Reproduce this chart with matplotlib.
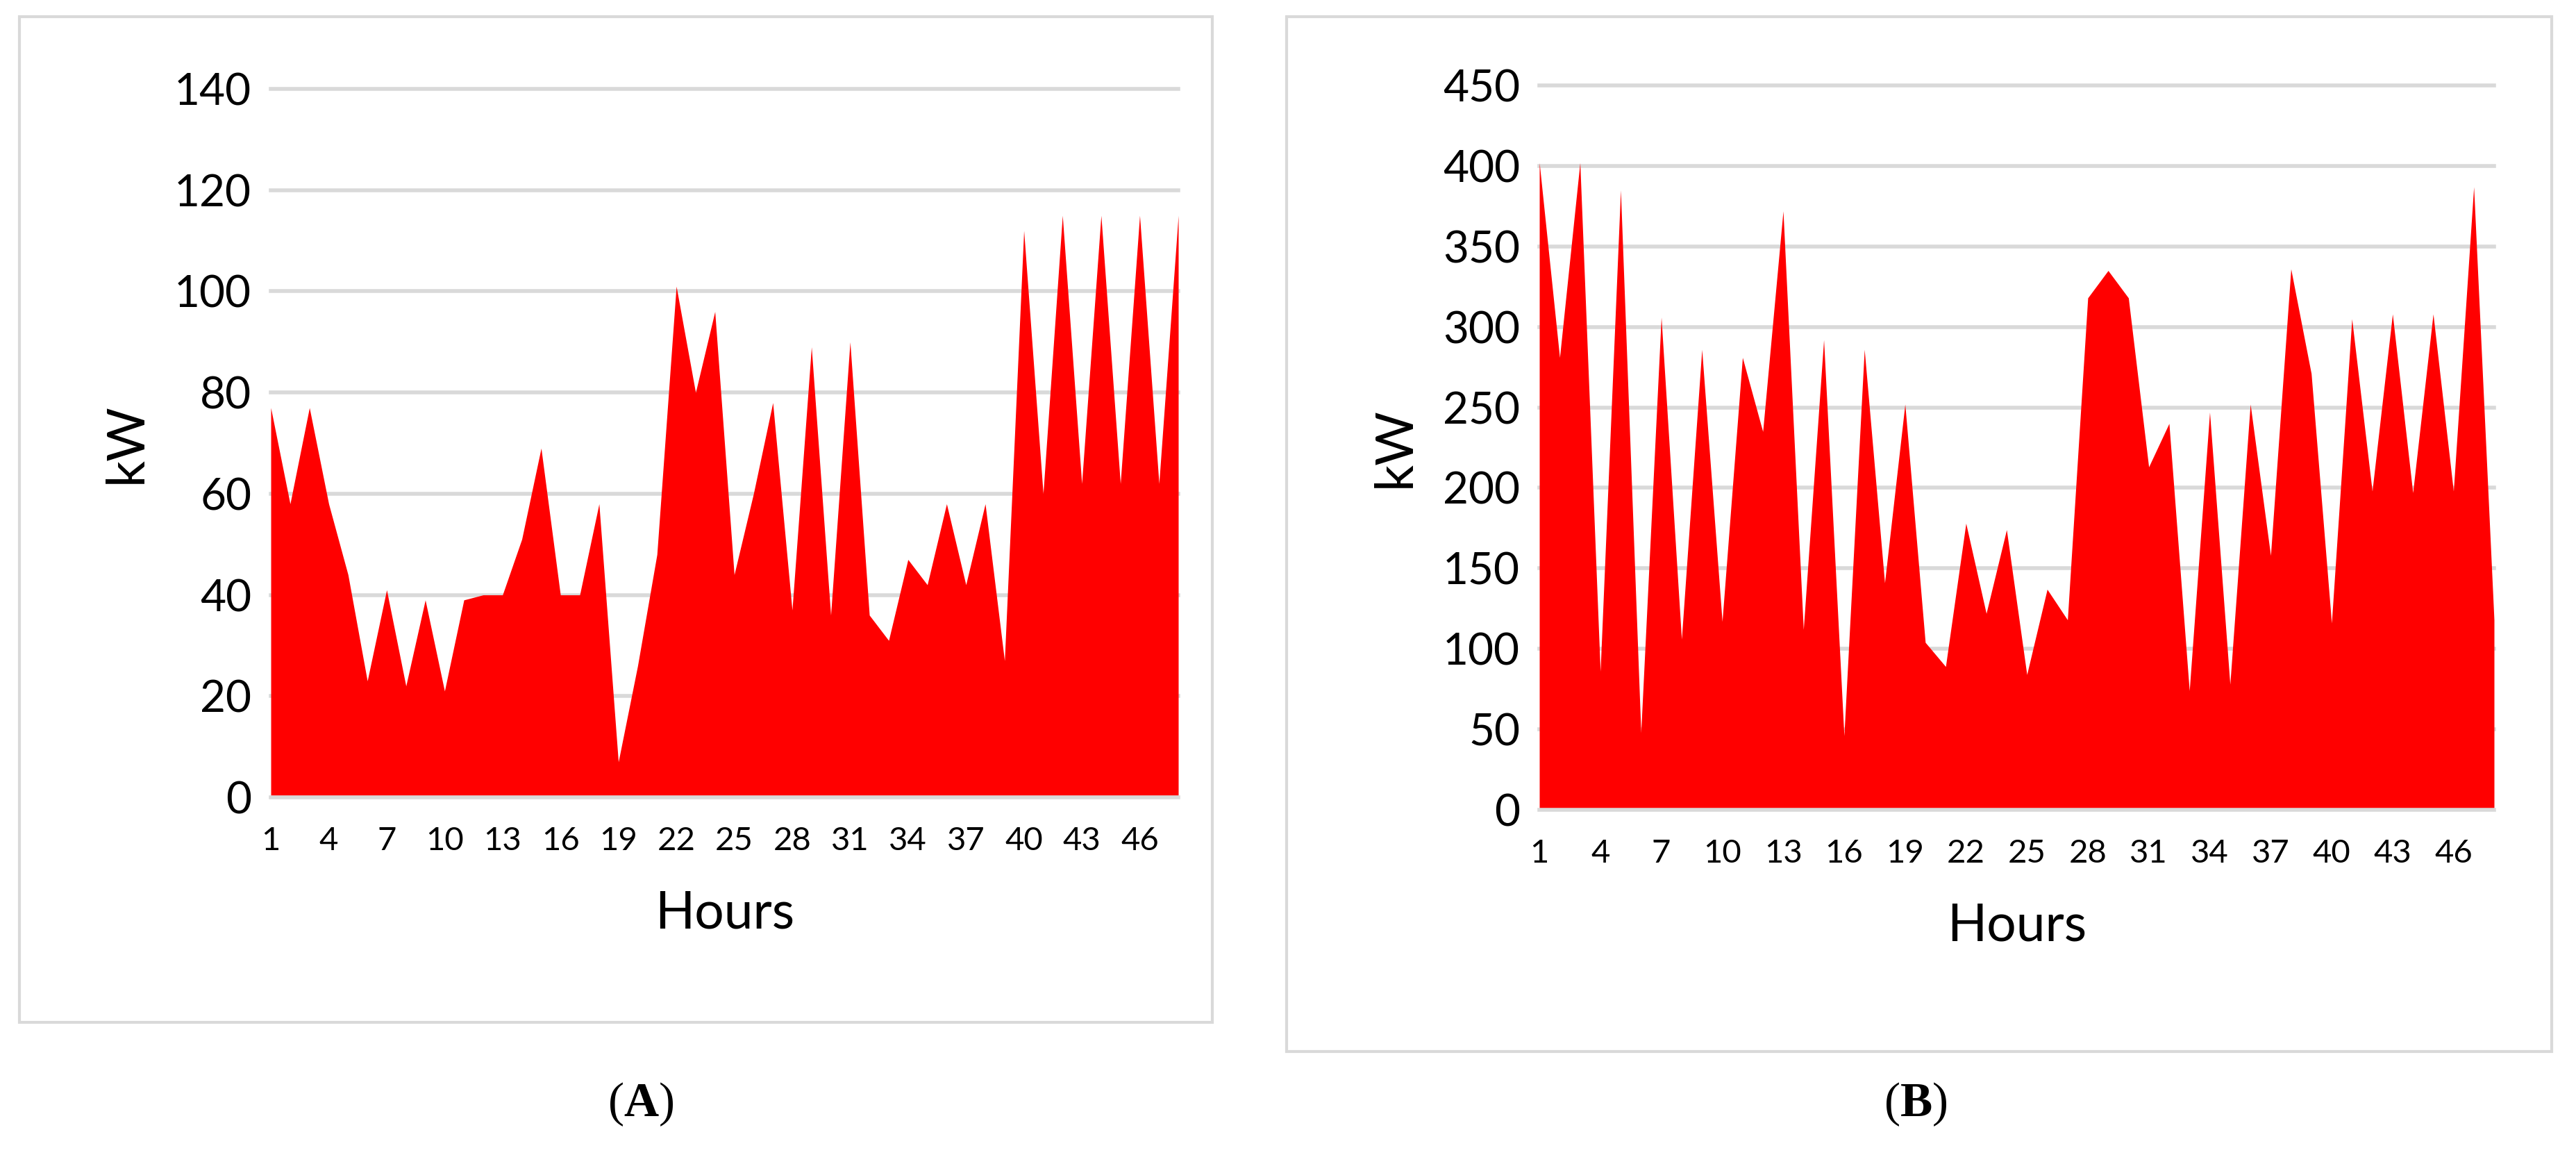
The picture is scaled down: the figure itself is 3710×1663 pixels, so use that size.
import matplotlib
matplotlib.use("Agg")
import matplotlib.pyplot as plt
from matplotlib.patches import Rectangle

plt.rcParams["mathtext.fontset"] = "custom"
plt.rcParams["mathtext.rm"] = "Liberation Serif"
plt.rcParams["mathtext.bf"] = "Liberation Serif:bold"

hours = list(range(1, 49))
load_a = [77, 58, 77, 58, 44, 23, 41, 22, 39, 21, 39, 40, 40, 51, 69, 40, 40, 58, 7, 26,
          48, 101, 80, 96, 44, 60, 78, 37, 89, 36, 90, 36, 31, 47, 42, 58, 42, 58, 27, 112,
          60, 115, 62, 115, 62, 115, 62, 115]
load_b = [402, 281, 402, 86, 385, 48, 306, 106, 286, 117, 281, 235, 372, 112, 292, 46, 286, 141,
          252, 104, 89, 178, 122, 174, 84, 137, 118, 318, 335, 318, 213, 240, 74, 247, 78, 252,
          158, 336, 271, 116, 305, 198, 308, 197, 308, 198, 387, 118]
xticks = list(range(1, 48, 3))
yticks_a = list(range(0, 141, 20))
yticks_b = list(range(0, 451, 50))
panel_labels = ["A", "B"]

W, H = 3710, 1663
fig = plt.figure(figsize=(W / 100, H / 100), dpi=100)
fig.patch.set_facecolor("white")

def box(x0, y0, x1, y1):
    fig.patches.append(Rectangle((x0 / W, 1 - y1 / H), (x1 - x0) / W, (y1 - y0) / H,
                                 transform=fig.transFigure, fill=False,
                                 edgecolor="#d9d9d9", linewidth=3))

box(28, 24, 1746, 1472)
box(1853, 24, 3675, 1514)

def panel(rect, vals, yt):
    x0, y0, x1, y1 = rect
    ax = fig.add_axes([x0 / W, 1 - y1 / H, (x1 - x0) / W, (y1 - y0) / H])
    ax.fill_between(hours, vals, 0, color="#ff0000", linewidth=0, zorder=2)
    ax.set_xlim(1, 48)
    ax.set_ylim(0, yt[-1])
    ax.set_yticks(yt)
    ax.set_xticks(xticks)
    for v in yt:
        ax.axhline(v, color="#d9d9d9", linewidth=4, zorder=1 if v else 3, clip_on=False)
    for s in ax.spines.values():
        s.set_visible(False)
    ax.tick_params(length=0, labelsize=46, colors="#000000", pad=20)
    ax.tick_params(axis="x", labelsize=34, pad=30)
    for lab in ax.get_xticklabels() + ax.get_yticklabels():
        lab.set_fontfamily("Lato")
    ax.set_ylabel("kW", fontsize=54, fontfamily="Lato", labelpad=25)
    ax.set_xlabel("Hours", fontsize=54, fontfamily="Lato", labelpad=35)
    return ax

panel((390, 128, 1697, 1148), load_a, yticks_a)
panel((2217, 123, 3592, 1166), load_b, yticks_b)

for lab, xc in zip(panel_labels, [923, 2759]):
    fig.text(xc / W, 1 - 1590 / H, "($\\mathbf{" + lab + "}$)", fontsize=50,
             fontfamily="Liberation Serif", ha="center", va="center")

fig.savefig("out.png", dpi=100, facecolor="white")
